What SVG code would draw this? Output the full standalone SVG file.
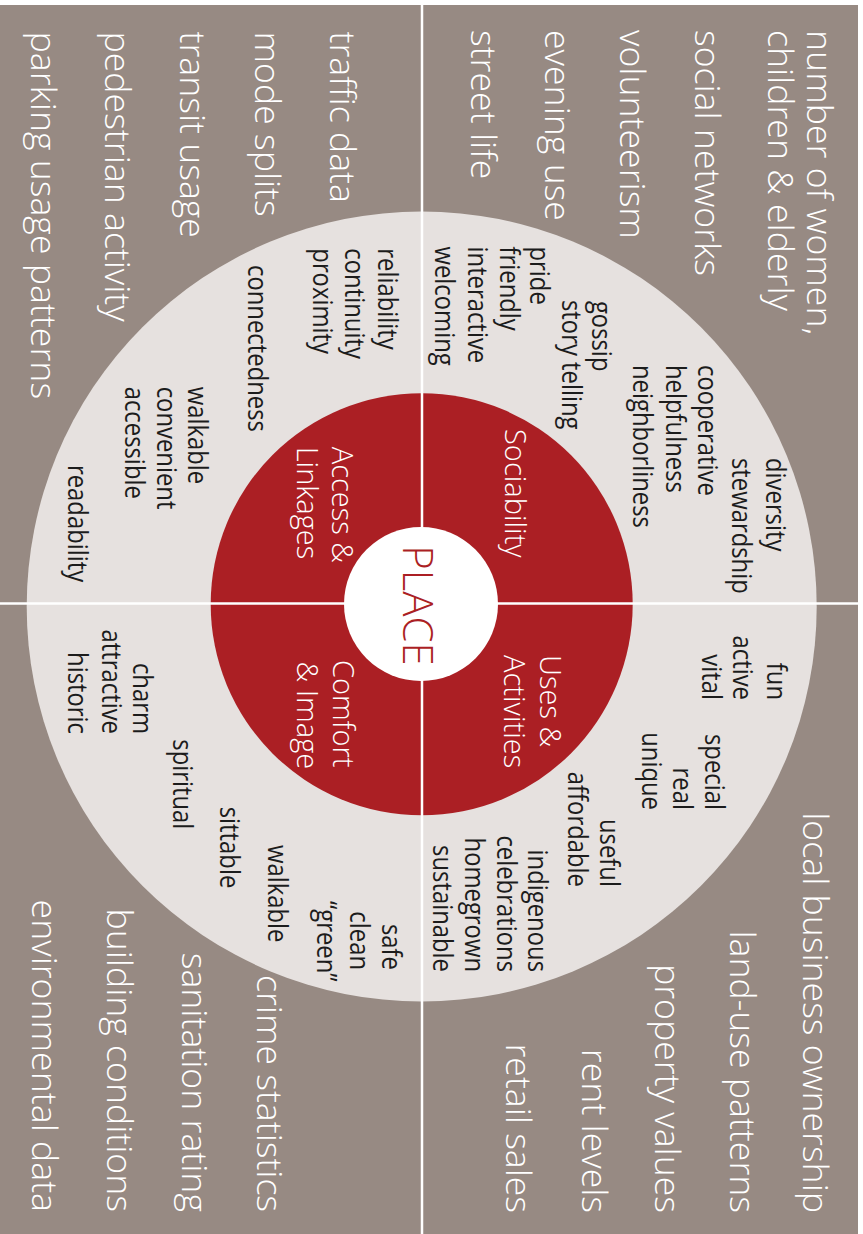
<svg xmlns="http://www.w3.org/2000/svg" width="863" height="1234" viewBox="0 0 863 1234">
<style>
text{font-family:"Open Sans","Liberation Sans",sans-serif}
.o{font-size:35px;font-weight:300;fill:#ffffff}
.i{font-size:26.5px;font-weight:400;fill:#1c1c1c}
.r{font-size:28.5px;font-weight:300;fill:#ffffff}
.p{font-size:43px;font-weight:300;fill:#ab1f24}
.e{text-anchor:end}
.m{text-anchor:middle}
.div{stroke:#ffffff;stroke-width:2.5;fill:none}
</style>
<rect x="0" y="0" width="863" height="1234" fill="#ffffff"/>
<g transform="translate(863 0) rotate(90)">
  <rect id="background" x="5" y="5" width="1229" height="858" fill="#978a83"/>
  <circle id="outer-ring" cx="606.5" cy="441.3" r="395" fill="#e6e1df"/>
  <circle id="inner-ring" cx="604.2" cy="441.3" r="211" fill="#ab1f24"/>
  <g id="dividers">
    <line class="div" x1="5" y1="441" x2="1234" y2="441"/>
    <line class="div" x1="603.5" y1="5" x2="603.5" y2="863"/>
  </g>
  <g id="place">
    <circle cx="604" cy="442" r="77" fill="#ffffff"/>
    <g transform="translate(605.5 0) scale(0.975 1)"><text class="p m" y="459.7">PLACE</text></g>
  </g>

  <g id="sociability">
    <g transform="translate(429 0) scale(1.02 1)"><text class="r" y="358">Sociability</text></g>
    <g transform="translate(458 0) scale(0.9 1)">
      <text class="i" y="97.3">diversity</text>
      <text class="i" y="131.3">stewardship</text>
    </g>
    <g transform="translate(365 0) scale(0.9 1)">
      <text class="i" y="165.3">cooperative</text>
      <text class="i" y="197.5">helpfulness</text>
      <text class="i" y="230">neighborliness</text>
    </g>
    <g transform="translate(300 0) scale(0.9 1)">
      <text class="i" x="1" y="271.3">gossip</text>
      <text class="i" y="301.3">story telling</text>
    </g>
    <g transform="translate(246.5 0) scale(0.9 1)">
      <text class="i" y="333">pride</text>
      <text class="i" y="363">friendly</text>
      <text class="i" y="394.7">interactive</text>
      <text class="i" y="428">welcoming</text>
    </g>
  </g>

  <g id="uses-activities">
    <g transform="translate(655 0) scale(1.02 1)">
      <text class="r" y="323">Uses &amp;</text>
      <text class="r" y="359">Activities</text>
    </g>
    <g transform="translate(700 0) scale(0.9 1)">
      <text class="i e" y="96.3">fun</text>
      <text class="i e" y="129.7">active</text>
      <text class="i e" y="161.3">vital</text>
    </g>
    <g transform="translate(810 0) scale(0.9 1)">
      <text class="i e" y="158">special</text>
      <text class="i e" y="189.7">real</text>
      <text class="i e" y="221.3">unique</text>
    </g>
    <g transform="translate(887 0) scale(0.9 1)">
      <text class="i e" y="263">useful</text>
      <text class="i e" y="294.7">affordable</text>
    </g>
    <g transform="translate(972 0) scale(0.9 1)">
      <text class="i e" y="334.7">indigenous</text>
      <text class="i e" y="366.3">celebrations</text>
      <text class="i e" y="398">homegrown</text>
      <text class="i e" y="429.7">sustainable</text>
    </g>
  </g>

  <g id="access-linkages">
    <g transform="translate(446.7 0) scale(1.02 1)">
      <text class="r" y="531.3">Access &amp;</text>
      <text class="r" y="566.3">Linkages</text>
    </g>
    <g transform="translate(248.3 0) scale(0.9 1)">
      <text class="i" y="484.7">reliability</text>
      <text class="i" y="518">continuity</text>
      <text class="i" y="549.7">proximity</text>
    </g>
    <g transform="translate(265 0) scale(0.9 1)"><text class="i" y="614.7">connectedness</text></g>
    <g transform="translate(386.7 0) scale(0.9 1)">
      <text class="i" y="674.7">walkable</text>
      <text class="i" y="706.3">convenient</text>
      <text class="i" y="738">accessible</text>
    </g>
    <g transform="translate(465 0) scale(0.9 1)"><text class="i" y="794.7">readability</text></g>
  </g>

  <g id="comfort-image">
    <g transform="translate(660 0) scale(1.02 1)">
      <text class="r" y="529.7">Comfort</text>
      <text class="r" x="1.5" y="566.3">&amp; Image</text>
    </g>
    <g transform="translate(734 0) scale(0.9 1)">
      <text class="i e" y="729.7">charm</text>
      <text class="i e" y="761.3">attractive</text>
      <text class="i e" y="794.7">historic</text>
    </g>
    <g transform="translate(739.3 0) scale(0.9 1)"><text class="i" y="689.7">spiritual</text></g>
    <g transform="translate(806.7 0) scale(0.9 1)"><text class="i" y="643">sittable</text></g>
    <g transform="translate(845 0) scale(0.9 1)"><text class="i" y="594.7">walkable</text></g>
    <g transform="translate(970 0) scale(0.9 1)">
      <text class="i e" y="481.3">safe</text>
      <text class="i e" y="513">clean</text>
    </g>
    <g transform="translate(901 0) scale(0.9 1)"><text class="i" y="546.3">“green”</text></g>
  </g>

  <g id="sociability-measures" transform="translate(30 0) scale(1.02 1)">
    <text class="o" y="56.3">number of women,</text>
    <text class="o" y="94.7">children &amp; elderly</text>
    <text class="o" y="168">social networks</text>
    <text class="o" y="243">volunteerism</text>
    <text class="o" y="318">evening use</text>
    <text class="o" y="392.3">street life</text>
  </g>
  <g id="access-measures" transform="translate(31.5 0) scale(1.02 1)">
    <text class="o" y="533">traffic data</text>
    <text class="o" y="608">mode splits</text>
    <text class="o" y="683">transit usage</text>
    <text class="o" y="758">pedestrian activity</text>
    <text class="o" y="832.3">parking usage patterns</text>
  </g>
  <g id="uses-measures" transform="translate(1213 0) scale(1.02 1)">
    <text class="o e" y="59.7">local business ownership</text>
    <text class="o e" y="133">land-use patterns</text>
    <text class="o e" y="208">property values</text>
    <text class="o e" y="281.3">rent levels</text>
    <text class="o e" y="357">retail sales</text>
  </g>
  <g id="comfort-measures" transform="translate(1212 0) scale(1.02 1)">
    <text class="o e" y="606.3">crime statistics</text>
    <text class="o e" y="681.3">sanitation rating</text>
    <text class="o e" y="756.3">building conditions</text>
    <text class="o e" y="830.7">environmental data</text>
  </g>
</g>
</svg>
